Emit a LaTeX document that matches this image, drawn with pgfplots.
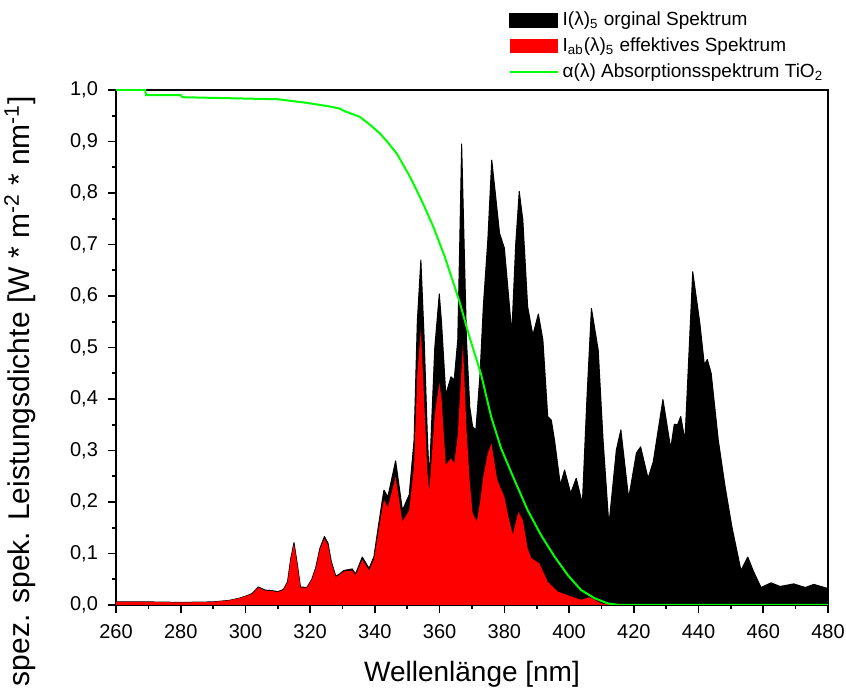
\documentclass[border=0pt]{standalone}
\usepackage{fontspec}
\setmainfont{Liberation Sans}
\usepackage{pgfplots}
\pgfplotsset{compat=1.18}
\usetikzlibrary{calc}
\definecolor{specred}{RGB}{255,0,0}
\definecolor{absgreen}{RGB}{0,255,0}
\pgfplotsset{
  boxlegend/.style={legend image code/.code={\fill[##1] (0pt,-3.5pt) rectangle (24pt,3.5pt);}},
  linelegend/.style={legend image code/.code={\draw[##1] (0pt,0pt) -- (24pt,0pt);}},
}

\begin{document}
\begin{tikzpicture}
\begin{axis}[
  scale only axis, width=356pt, height=257.5pt,
  xmin=260, xmax=480, ymin=0, ymax=1,
  xtick={260,280,...,480}, minor x tick num=1,
  ytick={0,0.1,0.2,0.3,0.4,0.5,0.6,0.7,0.8,0.9,1.0}, minor y tick num=1,
  tick pos=left, tick align=outside,
  major tick length=4pt, minor tick length=2pt,
  tick style={line width=0.8pt, black},
  axis line style={line width=1pt},
  xlabel={Wellenlänge [nm]},
  ylabel={spez. spek. Leistungsdichte [W * m\textsuperscript{-2} * nm\textsuperscript{-1}]},
  x label style={font=\fontsize{14}{16}\selectfont, at={(axis description cs:0.5,-0.135)}, anchor=center},
  y label style={font=\fontsize{15}{17}\selectfont, at={(axis description cs:-0.135,0.415)}, anchor=center},
  tick label style={font=\fontsize{10}{12}\selectfont},
  xticklabel style={yshift=-2pt, /pgf/number format/assume math mode=true},
  yticklabel style={xshift=-1.5pt, /pgf/number format/.cd, fixed, fixed zerofill, precision=1, use comma, assume math mode=true},
  legend style={draw=none, fill=none, at={(axis description cs:0.551,1.16)}, anchor=north west,
    font=\fontsize{9.5}{11.5}\selectfont, row sep=0.5pt, inner sep=0pt},
  legend cell align=left,
]
% I(lambda) original spectrum
\addplot[fill=black, draw=black, line width=0.5pt, line join=round, boxlegend] coordinates {
(260,0.006)(270,0.006)(280,0.005)(290,0.006)(295,0.009)(298,0.013)(300,0.017)(302,0.022)
(304,0.035)(306,0.029)(308,0.028)(310,0.026)(311.7,0.030)(313,0.045)(314,0.09)(315,0.121)
(316,0.08)(317,0.035)(319,0.034)(320.5,0.05)(321.7,0.072)(323,0.110)(324.4,0.133)(325.5,0.12)
(326.5,0.085)(327.9,0.056)(329,0.06)(330.4,0.067)(333,0.070)(334,0.060)(336.1,0.093)(338.2,0.071)
(339.7,0.094)(341,0.150)(342.3,0.204)(342.8,0.223)(344,0.21)(346.4,0.28)(348.5,0.184)(350.6,0.214)
(352.1,0.32)(353.1,0.55)(354.2,0.67)(355.2,0.52)(356.2,0.33)(356.8,0.243)(358.5,0.50)(359.9,0.604)
(360.6,0.547)(361.9,0.408)(363.5,0.443)(364.5,0.437)(365.6,0.515)(366.2,0.70)(366.8,0.895)(368.3,0.515)
(369.3,0.385)(370.2,0.346)(371.2,0.34)(372.5,0.45)(373.5,0.58)(374.9,0.71)(376.1,0.864)(377.2,0.80)
(378.5,0.722)(380,0.693)(381.3,0.60)(382.3,0.528)(383.5,0.70)(384.6,0.803)(385.7,0.748)(387.2,0.579)
(388.8,0.524)(390.5,0.565)(391.9,0.515)(393.4,0.366)(394.5,0.359)(395.5,0.32)(397.3,0.233)(398.6,0.262)
(400.5,0.217)(402.2,0.246)(404.1,0.197)(405.5,0.40)(406.9,0.576)(409,0.495)(410.5,0.32)(412.3,0.155)
(414.6,0.301)(416,0.34)(418.4,0.207)(420.8,0.295)(422.1,0.307)(424.4,0.246)(426,0.278)(429,0.399)
(431.4,0.304)(432.5,0.351)(433.5,0.35)(434.5,0.366)(435.8,0.32)(438.2,0.647)(440.4,0.547)(441.8,0.466)
(442.7,0.477)(443.9,0.45)(446.1,0.32)(448.2,0.23)(450.3,0.152)(453.1,0.067)(455.2,0.093)(457,0.065)
(459.3,0.034)(462.4,0.043)(465.2,0.036)(469.4,0.041)(473,0.034)(475.6,0.040)(480,0.032)
} \closedcycle;
\addlegendentry{I(λ)\textsubscript{5} orginal Spektrum}
% I_ab(lambda) effective spectrum
\addplot[fill=specred, draw=none, boxlegend] coordinates {
(260,0.006)(270,0.006)(280,0.005)(290,0.006)(295,0.009)(298,0.013)(300,0.017)(302,0.021)
(304,0.034)(306,0.028)(308,0.027)(310,0.025)(311.7,0.029)(313,0.044)(314,0.088)(315,0.119)
(316,0.078)(317,0.034)(319,0.033)(320.5,0.049)(321.7,0.070)(323,0.107)(324.4,0.129)(325.5,0.116)
(326.5,0.082)(327.9,0.054)(329,0.058)(330.4,0.065)(333,0.067)(334,0.057)(336.1,0.088)(338.2,0.067)
(339.7,0.088)(341,0.139)(342.3,0.188)(342.8,0.204)(344,0.190)(346.4,0.249)(348.5,0.162)(350.6,0.184)
(352.1,0.270)(353.1,0.45)(354.2,0.537)(355.2,0.40)(356.2,0.26)(356.8,0.22)(358.5,0.37)(359.9,0.432)
(360.6,0.40)(361.9,0.272)(363.5,0.285)(364.5,0.275)(365.6,0.33)(367.2,0.508)(368.3,0.34)(369.3,0.24)
(370.2,0.178)(371.5,0.162)(372.5,0.20)(373.5,0.25)(374.9,0.295)(376,0.314)(377.8,0.243)(380,0.210)
(381.3,0.17)(382.6,0.136)(384.3,0.181)(385.7,0.165)(387.2,0.110)(388.3,0.091)(390.8,0.081)(393.4,0.045)
(396.5,0.026)(399.6,0.019)(403.7,0.010)(406.3,0.015)(410,0.003)(413,0.001)(416,0)(480,0)
} \closedcycle;
\addlegendentry{I\textsubscript{ab}(λ)\textsubscript{5} effektives Spektrum}
% alpha(lambda) absorption spectrum TiO2
\addplot[absgreen, line width=1pt, linelegend] coordinates {
(260,1.0)(269,1.0)(269.3,0.99)(280,0.99)(280.5,0.986)(310,0.982)(319,0.975)(326,0.968)
(329,0.964)(331,0.958)(335.3,0.948)(338,0.935)(341.5,0.916)(344,0.898)(346.7,0.877)(350.8,0.832)
(354.4,0.786)(358,0.735)(361.6,0.676)(364,0.63)(366,0.592)(369,0.525)(372.8,0.448)(375.9,0.366)
(379,0.304)(383.1,0.243)(387.2,0.184)(391.3,0.136)(395.5,0.094)(399.6,0.058)(403.7,0.029)(407.9,0.013)
(412,0.003)(415.6,0)(480,0)
};
\addlegendentry{α(λ) Absorptionsspektrum TiO\textsubscript{2}}
\end{axis}
\pgfresetboundingbox
\path ($(current axis.south west)+(-58pt,-42.5pt)$) rectangle ($(current axis.north east)+(9pt,45pt)$);
\end{tikzpicture}
\end{document}
